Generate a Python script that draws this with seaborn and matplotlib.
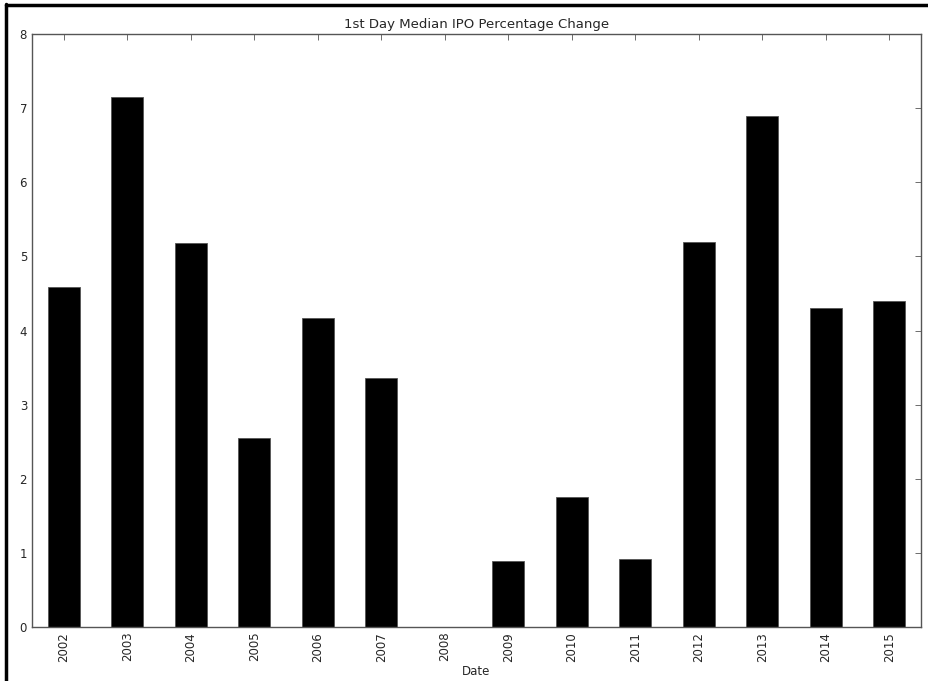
import pandas as pd
import matplotlib
matplotlib.use('Agg')
import matplotlib.pyplot as plt
from matplotlib.lines import Line2D
import seaborn as sns

years = ['2002', '2003', '2004', '2005', '2006', '2007', '2008',
         '2009', '2010', '2011', '2012', '2013', '2014', '2015']
median_change = [4.59, 7.15, 5.18, 2.55, 4.17, 3.36, 0.0,
                 0.89, 1.75, 0.92, 5.20, 6.90, 4.30, 4.40]

df = pd.DataFrame({'Date': years, 'change': median_change})

sns.set_style('white')
plt.rcParams['font.family'] = ['DejaVu Sans']

fig = plt.figure(figsize=(9.29, 6.81), dpi=100)
ax = fig.add_axes([0.0344, 0.0793, 0.957, 0.8707])

sns.barplot(data=df, x='Date', y='change', color='black', width=0.5,
            edgecolor='#555555', linewidth=0.6, saturation=1, ax=ax)

ax.set_xlim(-0.5, len(years) - 0.5)
ax.set_ylim(0, 8)
ax.set_yticks(range(0, 9))
ax.set_title('1st Day Median IPO Percentage Change', fontsize=9.5, pad=4)
ax.set_xlabel('Date', fontsize=8.5, labelpad=2)
ax.set_ylabel('')
ax.tick_params(axis='both', direction='in', top=True, right=True,
               length=4, width=0.6, color='#555555', labelsize=8.5)
ax.tick_params(axis='x', rotation=90)
for s in ax.spines.values():
    s.set_color('#555555')
    s.set_linewidth(1.0)

# screenshot frame on the left and top
fig.add_artist(Line2D([6.5 / 929, 6.5 / 929], [0, 1 - 4 / 681],
                      transform=fig.transFigure, color='black', linewidth=2.5))
fig.add_artist(Line2D([6.5 / 929, 1], [1 - 5 / 681, 1 - 5 / 681],
                      transform=fig.transFigure, color='black', linewidth=2.5))

fig.savefig('out.png', dpi=100)
